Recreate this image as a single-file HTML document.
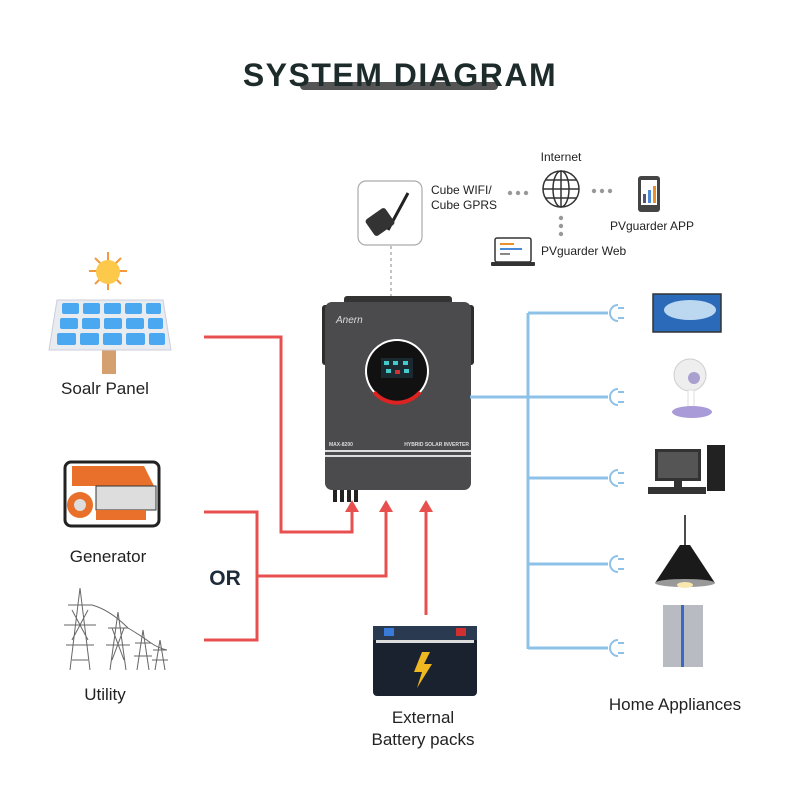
<!DOCTYPE html>
<html><head><meta charset="utf-8"><style>
body{margin:0;background:#fff}
svg{display:block}
text{font-family:"Liberation Sans",sans-serif}
</style></head><body>
<svg width="800" height="800" viewBox="0 0 800 800" xmlns="http://www.w3.org/2000/svg">
<rect width="800" height="800" fill="#fff"/>
<!-- title -->
<rect x="300" y="82" width="198" height="8" rx="4" fill="#555"/>
<text x="400" y="86" text-anchor="middle" font-size="32" font-weight="bold" fill="#1d2b2b" letter-spacing="1.5">SYSTEM DIAGRAM</text>

<!-- wifi box -->
<rect x="358" y="181" width="64" height="64" rx="8" fill="#fff" stroke="#aaa" stroke-width="1.2"/>
<line x1="388" y1="230" x2="408" y2="193" stroke="#222" stroke-width="3"/>
<rect x="368" y="212" width="24" height="20" rx="3" fill="#333" transform="rotate(-35 380 222)"/>
<line x1="391" y1="246" x2="391" y2="298" stroke="#888" stroke-dasharray="3,3"/>
<text x="431" y="194" font-size="12" fill="#222">Cube WIFI/</text>
<text x="431" y="209" font-size="12" fill="#222">Cube  GPRS</text>
<g fill="#999"><circle cx="510" cy="193" r="2.2"/><circle cx="518" cy="193" r="2.2"/><circle cx="526" cy="193" r="2.2"/>
<circle cx="594" cy="191" r="2.2"/><circle cx="602" cy="191" r="2.2"/><circle cx="610" cy="191" r="2.2"/>
<circle cx="561" cy="218" r="2.2"/><circle cx="561" cy="226" r="2.2"/><circle cx="561" cy="234" r="2.2"/></g>
<text x="561" y="161" text-anchor="middle" font-size="12" fill="#222">Internet</text>
<g fill="none" stroke="#333" stroke-width="1.5"><circle cx="561" cy="189" r="18"/><ellipse cx="561" cy="189" rx="8" ry="18"/><line x1="543" y1="189" x2="579" y2="189"/><line x1="561" y1="171" x2="561" y2="207"/><path d="M546 180h30M546 198h30"/></g>
<rect x="638" y="176" width="22" height="36" rx="3" fill="#444"/><rect x="641" y="180" width="16" height="25" fill="#fff"/>
<rect x="643" y="194" width="3" height="9" fill="#557"/><rect x="648" y="190" width="3" height="13" fill="#4a8ad8"/><rect x="653" y="186" width="3" height="17" fill="#e89030"/>
<text x="610" y="230" font-size="12" fill="#222">PVguarder APP</text>
<rect x="495" y="238" width="36" height="24" rx="2" fill="#fff" stroke="#333" stroke-width="1.5"/><rect x="491" y="262" width="44" height="4" rx="1" fill="#333"/>
<rect x="500" y="243" width="14" height="2" fill="#e89030"/><rect x="500" y="248" width="22" height="2" fill="#4a8ad8"/><rect x="500" y="253" width="10" height="2" fill="#888"/>
<text x="541" y="255" font-size="12" fill="#222">PVguarder Web</text>

<!-- inverter -->
<rect x="344" y="296" width="108" height="10" rx="3" fill="#333"/>
<rect x="322" y="305" width="10" height="60" rx="3" fill="#2d2d2d"/><rect x="464" y="305" width="10" height="60" rx="3" fill="#2d2d2d"/>
<rect x="325" y="302" width="146" height="188" rx="7" fill="#4b4b4d"/>
<text x="336" y="323" font-size="10" font-style="italic" fill="#ddd" font-family="Liberation Serif">Anern</text>
<circle cx="397" cy="371" r="32" fill="#fff"/><circle cx="397" cy="371" r="30" fill="#111"/>
<path d="M374 392 A30 30 0 0 0 420 392" stroke="#d22" stroke-width="4" fill="none"/>
<rect x="381" y="358" width="32" height="20" fill="#1a2a30"/>
<g fill="#4cc"><rect x="384" y="361" width="5" height="4"/><rect x="393" y="361" width="5" height="4"/><rect x="403" y="361" width="5" height="4"/><rect x="386" y="369" width="5" height="4"/><rect x="404" y="369" width="5" height="4"/></g>
<rect x="395" y="370" width="5" height="4" fill="#c33"/>
<text x="329" y="446" font-size="5" fill="#ddd" font-weight="bold">MAX-8200</text>
<text x="469" y="446" text-anchor="end" font-size="5" fill="#ddd" font-weight="bold">HYBRID SOLAR INVERTER</text>
<rect x="325" y="450" width="146" height="2" fill="#ddd"/><rect x="325" y="455" width="146" height="2" fill="#ddd"/>
<g fill="#222"><rect x="333" y="490" width="4" height="12"/><rect x="340" y="490" width="4" height="12"/><rect x="347" y="490" width="4" height="12"/><rect x="354" y="490" width="4" height="12"/></g>

<!-- red lines -->
<g stroke="#e85050" stroke-width="3" fill="none">
<polyline points="204,337 281,337 281,532 352,532 352,510"/>
<polyline points="204,512 257,512 257,640 204,640"/>
<polyline points="257,576 386,576 386,510"/>
<polyline points="426,615 426,510"/>
</g>
<g fill="#e85050"><polygon points="352,500 345,512 359,512"/><polygon points="386,500 379,512 393,512"/><polygon points="426,500 419,512 433,512"/></g>
<text x="225" y="585" text-anchor="middle" font-size="21" font-weight="bold" fill="#1d2b3a">OR</text>

<!-- blue lines -->
<g stroke="#8ec1e8" stroke-width="3" fill="none">
<line x1="470" y1="397" x2="528" y2="397"/>
<line x1="528" y1="313" x2="528" y2="649"/>
<line x1="528" y1="313" x2="608" y2="313"/><line x1="528" y1="397" x2="608" y2="397"/><line x1="528" y1="478" x2="608" y2="478"/><line x1="528" y1="564" x2="608" y2="564"/><line x1="528" y1="648" x2="608" y2="648"/>
</g>
<g stroke="#8ec1e8" stroke-width="2" fill="none">
<path d="M618 305 A8 8 0 0 0 618 321 M618 308h6M618 318h6"/>
<path d="M618 389 A8 8 0 0 0 618 405 M618 392h6M618 402h6"/>
<path d="M618 470 A8 8 0 0 0 618 486 M618 473h6M618 483h6"/>
<path d="M618 556 A8 8 0 0 0 618 572 M618 559h6M618 569h6"/>
<path d="M618 640 A8 8 0 0 0 618 656 M618 643h6M618 653h6"/>
</g>
<!-- appliances -->
<rect x="653" y="294" width="68" height="38" fill="#2a6ab8" stroke="#333" stroke-width="1.5"/><ellipse cx="690" cy="310" rx="26" ry="10" fill="#bcd8f0"/>
<circle cx="690" cy="375" r="16" fill="#eee" stroke="#ccc"/><circle cx="694" cy="378" r="6" fill="#a9a0d0"/><rect x="688" y="390" width="6" height="20" fill="#fff" stroke="#ddd"/><ellipse cx="692" cy="412" rx="20" ry="6" fill="#a99ad8"/>
<rect x="655" y="449" width="46" height="32" fill="#333"/><rect x="658" y="452" width="40" height="26" fill="#555"/><rect x="674" y="481" width="8" height="6" fill="#333"/><rect x="648" y="487" width="58" height="7" fill="#333"/><rect x="707" y="445" width="18" height="46" fill="#222"/>
<line x1="685" y1="515" x2="685" y2="545" stroke="#111" stroke-width="1.5"/><path d="M680 545 h10 l25 38 h-60 z" fill="#1a1a1a"/><ellipse cx="685" cy="583" rx="30" ry="4" fill="#999"/><ellipse cx="685" cy="585" rx="8" ry="3" fill="#f8e8b0"/>
<rect x="663" y="605" width="40" height="62" fill="#b8bcc2"/><rect x="681" y="605" width="3" height="62" fill="#3a6ac8"/>
<text x="675" y="710" text-anchor="middle" font-size="17" fill="#222">Home Appliances</text>

<!-- solar -->
<g stroke="#f39a40" stroke-width="2"><line x1="108" y1="252" x2="108" y2="290"/><line x1="89" y1="271" x2="127" y2="271"/><line x1="95" y1="258" x2="121" y2="284"/><line x1="121" y1="258" x2="95" y2="284"/></g>
<circle cx="108" cy="272" r="12" fill="#fdc94a"/>
<rect x="102" y="350" width="14" height="24" fill="#d4a070"/>
<path d="M57 300 h106 l8 50 h-122 z" fill="#e8ecf0" stroke="#ccd" />
<g fill="#4aa8f0">
<rect x="62" y="303" width="17" height="11" rx="2"/><rect x="83" y="303" width="17" height="11" rx="2"/><rect x="104" y="303" width="17" height="11" rx="2"/><rect x="125" y="303" width="17" height="11" rx="2"/><rect x="146" y="303" width="15" height="11" rx="2"/>
<rect x="60" y="318" width="18" height="11" rx="2"/><rect x="82" y="318" width="18" height="11" rx="2"/><rect x="104" y="318" width="18" height="11" rx="2"/><rect x="126" y="318" width="18" height="11" rx="2"/><rect x="148" y="318" width="15" height="11" rx="2"/>
<rect x="57" y="333" width="19" height="12" rx="2"/><rect x="80" y="333" width="19" height="12" rx="2"/><rect x="103" y="333" width="19" height="12" rx="2"/><rect x="126" y="333" width="19" height="12" rx="2"/><rect x="149" y="333" width="16" height="12" rx="2"/></g>
<text x="105" y="394" text-anchor="middle" font-size="17" fill="#222">Soalr Panel</text>

<!-- generator -->
<rect x="65" y="462" width="94" height="64" rx="6" fill="none" stroke="#222" stroke-width="3"/>
<path d="M72 466 h72 l10 20 h-82 z" fill="#e8702a"/>
<rect x="96" y="486" width="60" height="24" fill="#ddd" stroke="#333"/>
<circle cx="80" cy="505" r="13" fill="#e8702a"/><circle cx="80" cy="505" r="6" fill="#ddd"/>
<rect x="96" y="510" width="50" height="10" fill="#e8702a"/>
<text x="108" y="562" text-anchor="middle" font-size="17" fill="#222">Generator</text>

<!-- utility -->
<g stroke="#666" stroke-width="1" fill="none">
<path d="M80 588 L70 670 M80 588 L90 670 M68 605h24M64 625h32M66 645h28M72 660h16 M72 610 L88 640 M88 610 L72 640"/>
<path d="M118 612 L110 670 M118 612 L126 670 M108 628h20M106 645h24M112 628 L124 660 M124 628 L112 660"/>
<path d="M143 630 L137 670 M143 630 L149 670 M135 643h16M134 656h18"/>
<path d="M160 640 L155 670 M160 640 L165 670 M153 650h14M152 660h16"/>
<path d="M92 605 Q110 610 128 628 Q140 635 151 643 Q158 648 167 650"/>
</g>
<text x="105" y="700" text-anchor="middle" font-size="17" fill="#222">Utility</text>

<!-- battery -->
<rect x="373" y="626" width="104" height="70" rx="4" fill="#1a2230"/>
<rect x="373" y="626" width="104" height="14" fill="#2a3a50"/>
<rect x="384" y="628" width="10" height="8" fill="#3a7ad8"/><rect x="456" y="628" width="10" height="8" fill="#d03030"/>
<rect x="376" y="640" width="98" height="3" fill="#ddd"/>
<polygon points="422,652 414,672 422,672 417,688 432,664 424,664 430,652" fill="#f0b820"/>
<text x="423" y="723" text-anchor="middle" font-size="17" fill="#222">External</text>
<text x="423" y="745" text-anchor="middle" font-size="17" fill="#222">Battery packs</text>
</svg>
</body></html>
